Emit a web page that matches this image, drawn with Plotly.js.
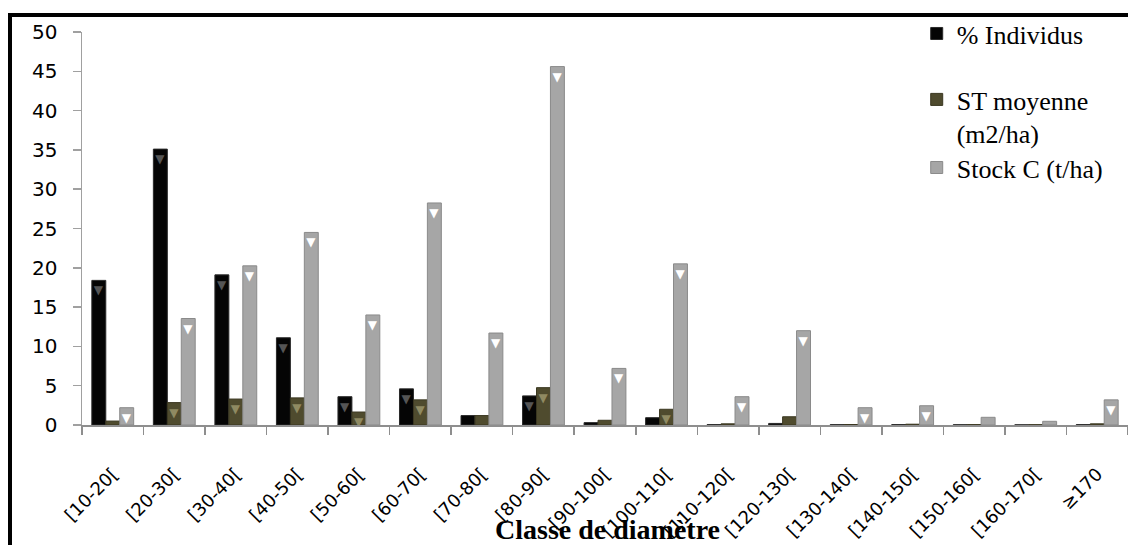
<!DOCTYPE html>
<html>
<head>
<meta charset="utf-8">
<script src="https://cdn.plot.ly/plotly-3.0.1.min.js"></script>
<style>
  html, body { margin: 0; padding: 0; background: #fff; overflow: hidden; }
  #wrap { position: relative; width: 1128px; height: 545px; }
  #chart { position: absolute; left: 0; top: 0; width: 1128px; height: 545px; }
  #frame { position: absolute; left: 8px; top: 13px; width: 1300px; height: 700px;
           border: 4px solid #000; pointer-events: none; }
</style>
</head>
<body>
<div id="wrap">
  <div id="chart"></div>
  <div id="frame"></div>
</div>
<script>
const categories = ["[10-20[", "[20-30[", "[30-40[", "[40-50[", "[50-60[", "[60-70[", "[70-80[", "[80-90[",
  "[90-100[", "[100-110[", "[110-120[", "[120-130[", "[130-140[", "[140-150[", "[150-160[", "[160-170[", "≥170"];

const pctIndividus = [18.4, 35.1, 19.1, 11.1, 3.6, 4.6, 1.2, 3.7, 0.3, 0.93, 0.05, 0.2, 0.04, 0.05, 0.03, 0.02, 0.05];
const stMoyenne    = [0.5, 2.85, 3.3, 3.45, 1.65, 3.2, 1.2, 4.75, 0.6, 2.0, 0.15, 1.05, 0.06, 0.1, 0.05, 0.04, 0.15];
const stockC       = [2.2, 13.55, 20.25, 24.5, 14.0, 28.25, 11.7, 45.6, 7.2, 20.5, 3.6, 12.0, 2.2, 2.45, 0.98, 0.47, 3.2];

const seriesNames = ["% Individus", "ST moyenne<br>(m2/ha)", "Stock C (t/ha)"];
const seriesValues = [pctIndividus, stMoyenne, stockC];
const fillColors = ["#050505", "#4f4b2e", "#a6a6a6"];
const edgeColors = ["#2a2a2a", "#3a3720", "#8a8a8a"];
const markColors = ["#555555", "#8f8a62", "#ffffff"];
const legendIds = ["legend", "legend2", "legend3"];

const traces = seriesValues.map((vals, i) => ({
  type: "bar",
  name: seriesNames[i],
  x: categories,
  y: vals,
  legend: legendIds[i],
  marker: { color: fillColors[i], line: { color: edgeColors[i], width: 1 } },
  text: vals.map(v => (v >= 1.5 ? "▼" : "")),
  textposition: "inside",
  insidetextanchor: "end",
  textangle: 0,
  constraintext: "none",
  textfont: { family: "DejaVu Sans", size: 12, color: markColors[i] },
  hoverinfo: "skip"
}));

const legendFont = { family: "Liberation Serif, Times New Roman, serif", size: 26, color: "#000" };
function legendAt(y, valign) {
  return {
    x: 0.798, xanchor: "left", y: y, yanchor: "middle",
    bgcolor: "rgba(0,0,0,0)", borderwidth: 0,
    font: legendFont, valign: valign, itemclick: false, itemdoubleclick: false
  };
}

const layout = {
  width: 1128, height: 545,
  margin: { l: 82, r: 0, t: 32, b: 120, pad: 0 },
  paper_bgcolor: "#ffffff",
  plot_bgcolor: "#ffffff",
  barmode: "group",
  bargap: 0.32,
  bargroupgap: 0,
  showlegend: true,
  legend: legendAt(0.996, "middle"),
  legend2: legendAt(0.785, "top"),
  legend3: legendAt(0.655, "middle"),
  xaxis: {
    type: "category",
    showline: true, linecolor: "#8e8e8e", linewidth: 1.5,
    ticks: "outside", tickson: "boundaries", ticklen: 8, tickcolor: "#8e8e8e", tickwidth: 1.5,
    tickangle: -45,
    ticklabelstandoff: 30,
    tickfont: { family: "DejaVu Sans", size: 18, color: "#000" },
    showgrid: false, zeroline: false, automargin: false,
    fixedrange: true
  },
  yaxis: {
    range: [0, 50],
    dtick: 5,
    showline: true, linecolor: "#a0a0a0", linewidth: 1.5,
    ticks: "outside", ticklen: 8, tickcolor: "#a0a0a0", tickwidth: 1.5,
    ticklabelstandoff: 11,
    tickfont: { family: "DejaVu Sans", size: 20, color: "#000" },
    showgrid: false, zeroline: false, automargin: false,
    fixedrange: true
  },
  annotations: [{
    text: "<b>Classe de diamètre</b>",
    xref: "paper", yref: "paper",
    x: 0.502, y: -0.267, xanchor: "center", yanchor: "middle",
    showarrow: false,
    font: { family: "Liberation Serif, Times New Roman, serif", size: 28, color: "#000" }
  }]
};

Plotly.newPlot("chart", traces, layout, { staticPlot: true, displayModeBar: false });
</script>
</body>
</html>
